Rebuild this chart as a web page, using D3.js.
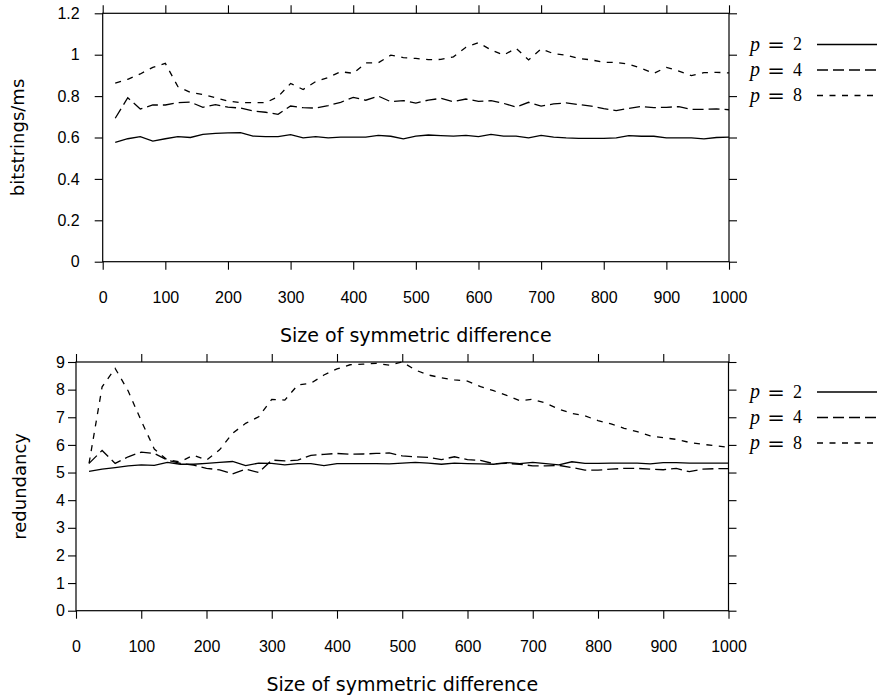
<!DOCTYPE html>
<html>
<head>
<meta charset="utf-8">
<script src="https://cdn.jsdelivr.net/npm/d3@7"></script>
<style>
    body { margin: 0; background: #fff; }
    svg { display: block; font-family: "DejaVu Sans", "Liberation Sans", sans-serif; }
    .tick text { font-size: 16px; fill: #000; }
    .tick line { stroke: #000; stroke-width: 1.1; }
    .title { font-size: 19px; fill: #000; }
    .legend text { font-family: "Liberation Serif", "DejaVu Serif", serif; font-size: 18px; fill: #000; }
</style>
</head>
<body>
<svg id="chart" width="878" height="696"></svg>
<script>
// x values (size of symmetric difference)
const sizes = [20, 40, 60, 80, 100, 120, 140, 160, 180, 200, 220, 240, 260, 280, 300, 320, 340, 360, 380, 400,
    420, 440, 460, 480, 500, 520, 540, 560, 580, 600, 620, 640, 660, 680, 700, 720, 740, 760, 780, 800,
    820, 840, 860, 880, 900, 920, 940, 960, 980, 1000];
const xTicks = [0, 100, 200, 300, 400, 500, 600, 700, 800, 900, 1000];
const rateTicks = [0, 0.2, 0.4, 0.6, 0.8, 1, 1.2];
const redTicks = [0, 1, 2, 3, 4, 5, 6, 7, 8, 9];
const pValues = ['2', '4', '8'];

// top panel: bitstrings/ms
const rateP2 = [0.577, 0.594, 0.604, 0.583, 0.594, 0.604, 0.600, 0.615, 0.620, 0.622, 0.623, 0.607, 0.604, 0.604, 0.614, 0.598, 0.604, 0.598, 0.602, 0.602,
    0.602, 0.610, 0.606, 0.593, 0.607, 0.612, 0.609, 0.607, 0.610, 0.604, 0.615, 0.607, 0.607, 0.598, 0.610, 0.602, 0.598, 0.596, 0.596, 0.596,
    0.598, 0.609, 0.606, 0.606, 0.598, 0.598, 0.598, 0.593, 0.600, 0.602];
const rateP4 = [0.693, 0.792, 0.738, 0.757, 0.757, 0.768, 0.771, 0.746, 0.759, 0.747, 0.742, 0.728, 0.722, 0.712, 0.752, 0.744, 0.742, 0.754, 0.770, 0.794,
    0.780, 0.800, 0.773, 0.778, 0.766, 0.781, 0.789, 0.773, 0.786, 0.775, 0.778, 0.765, 0.747, 0.770, 0.752, 0.762, 0.767, 0.759, 0.752, 0.739,
    0.730, 0.741, 0.750, 0.744, 0.746, 0.749, 0.736, 0.736, 0.738, 0.734];
const rateP8 = [0.863, 0.881, 0.907, 0.939, 0.958, 0.846, 0.818, 0.808, 0.792, 0.776, 0.768, 0.768, 0.768, 0.797, 0.861, 0.832, 0.870, 0.890, 0.918, 0.910,
    0.960, 0.961, 0.998, 0.986, 0.982, 0.976, 0.977, 0.990, 1.036, 1.058, 1.023, 0.998, 1.031, 0.975, 1.028, 1.005, 0.998, 0.982, 0.975, 0.963,
    0.963, 0.954, 0.934, 0.910, 0.939, 0.921, 0.899, 0.913, 0.915, 0.912];

// bottom panel: redundancy
const redP2 = [5.04, 5.12, 5.18, 5.24, 5.28, 5.26, 5.37, 5.30, 5.30, 5.33, 5.37, 5.40, 5.25, 5.34, 5.33, 5.28, 5.32, 5.32, 5.25, 5.32,
    5.32, 5.32, 5.32, 5.31, 5.34, 5.37, 5.34, 5.30, 5.34, 5.32, 5.31, 5.30, 5.36, 5.32, 5.37, 5.32, 5.28, 5.39, 5.33, 5.33,
    5.34, 5.34, 5.34, 5.31, 5.36, 5.36, 5.34, 5.34, 5.34, 5.34];
const redP4 = [5.33, 5.80, 5.33, 5.57, 5.74, 5.69, 5.45, 5.33, 5.27, 5.15, 5.10, 4.95, 5.12, 5.00, 5.45, 5.42, 5.45, 5.62, 5.66, 5.69,
    5.66, 5.67, 5.69, 5.71, 5.60, 5.57, 5.55, 5.47, 5.57, 5.47, 5.44, 5.32, 5.33, 5.30, 5.24, 5.24, 5.26, 5.18, 5.09, 5.09,
    5.12, 5.15, 5.15, 5.12, 5.10, 5.15, 5.03, 5.12, 5.14, 5.14];
const redP8 = [5.33, 8.10, 8.77, 7.95, 6.87, 5.85, 5.45, 5.39, 5.63, 5.45, 5.82, 6.42, 6.78, 7.02, 7.65, 7.62, 8.17, 8.23, 8.53, 8.75,
    8.90, 8.92, 8.95, 8.89, 9.00, 8.71, 8.53, 8.43, 8.35, 8.31, 8.11, 7.96, 7.79, 7.60, 7.65, 7.51, 7.29, 7.14, 7.05, 6.88,
    6.76, 6.60, 6.48, 6.33, 6.26, 6.20, 6.09, 6.02, 5.97, 5.91];

const dashes = [null, '11,5', '6,6.5'];

const svg = d3.select('#chart');

function drawPanel(o) {
    const x = d3.scaleLinear().domain([0, 1000]).range([o.left, o.right]);
    const y = d3.scaleLinear().domain([0, o.yMax]).range([o.bottom, o.top]);
    const g = svg.append('g');

    // axes, ticks pointing outward on all four sides
    g.append('g').attr('transform', `translate(0,${o.bottom})`)
        .call(d3.axisBottom(x).tickValues(xTicks).tickSize(8).tickPadding(22).tickFormat(d3.format('d')))
        .call(a => a.select('.domain').remove());
    g.append('g').attr('transform', `translate(0,${o.top})`)
        .call(d3.axisTop(x).tickValues(xTicks).tickSize(8).tickFormat(''))
        .call(a => a.select('.domain').remove());
    g.append('g').attr('transform', `translate(${o.left},0)`)
        .call(d3.axisLeft(y).tickValues(o.yTicks).tickSize(8).tickPadding(o.yPad).tickFormat(d3.format('')))
        .call(a => a.select('.domain').remove());
    g.append('g').attr('transform', `translate(${o.right},0)`)
        .call(d3.axisRight(y).tickValues(o.yTicks).tickSize(8).tickFormat(''))
        .call(a => a.select('.domain').remove());

    g.append('rect')
        .attr('x', o.left).attr('y', o.top)
        .attr('width', o.right - o.left).attr('height', o.bottom - o.top)
        .attr('fill', 'none').attr('stroke', '#000').attr('stroke-width', 1.2);

    const line = d3.line().x((d, i) => x(sizes[i])).y(d => y(d));
    g.selectAll('.series')
        .data(o.series)
        .enter().append('path')
        .attr('d', line)
        .attr('fill', 'none')
        .attr('stroke', '#000')
        .attr('stroke-width', 1.3)
        .attr('stroke-dasharray', (d, i) => dashes[i]);

    // titles
    g.append('text').attr('class', 'title')
        .attr('x', (o.left + o.right) / 2).attr('y', o.bottom + 80)
        .attr('text-anchor', 'middle')
        .text('Size of symmetric difference');
    g.append('text').attr('class', 'title')
        .attr('transform', `translate(${o.yTitleX},${(o.top + o.bottom) / 2}) rotate(-90)`)
        .attr('text-anchor', 'middle')
        .attr('dy', '0.35em')
        .style('font-size', '18px')
        .text(o.yTitle);

    // legend outside right
    const leg = g.append('g').attr('class', 'legend');
    const row = leg.selectAll('g').data(pValues).enter().append('g')
        .attr('transform', (d, i) => `translate(0,${o.legendY + i * 25.5})`);
    row.append('text').attr('x', 750).attr('dy', '0.3em')
        .style('font-style', 'italic').style('font-size', '20px').text('p');
    row.append('text').attr('x', 776).attr('dy', '0.36em').attr('text-anchor', 'middle')
        .style('font-family', '"DejaVu Serif", serif').style('font-size', '21px').text('=');
    row.append('text').attr('x', 793).attr('dy', '0.32em').text(d => d);
    row.append('line')
        .attr('x1', 817).attr('x2', 877).attr('y1', 0).attr('y2', 0)
        .attr('stroke', '#000').attr('stroke-width', 1.3)
        .attr('stroke-dasharray', (d, i) => dashes[i]);
}

drawPanel({
    left: 102.7, right: 729, top: 13.3, bottom: 261.7,
    yMax: 1.2, yTicks: rateTicks, yPad: 15,
    series: [rateP2, rateP4, rateP8],
    yTitle: 'bitstrings/ms', yTitleX: 18, legendY: 44.5
});

drawPanel({
    left: 76, right: 728.5, top: 362, bottom: 610.7,
    yMax: 9, yTicks: redTicks, yPad: 3,
    series: [redP2, redP4, redP8],
    yTitle: 'redundancy', yTitleX: 20, legendY: 392
});
</script>
</body>
</html>
